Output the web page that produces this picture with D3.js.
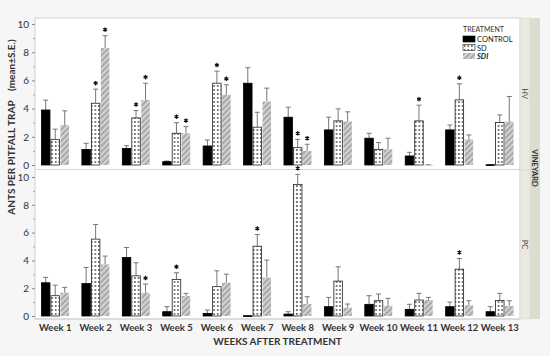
<!DOCTYPE html>
<html>
<head>
<meta charset="UTF-8">
<title>Ants per pitfall trap</title>
<script src="https://cdn.jsdelivr.net/npm/d3@7"></script>
<style>
	body { margin: 0; padding: 0; background: #f6f6f6; }
	text { font-family: Lato, "Open Sans", "DejaVu Sans", sans-serif; }
</style>
</head>
<body>
<script>
	var w = 550, h = 356;

	var weeks = ["Week 1", "Week 2", "Week 3", "Week 5", "Week 6", "Week 7", "Week 8", "Week 9", "Week 10", "Week 11", "Week 12", "Week 13"];
	var treatments = ["CONTROL", "SD", "SDI"];
	var vineyards = ["HV", "PC"];
	var yTicks = [0, 2, 4, 6, 8, 10];

	// HV vineyard: means and upper error bar (mean + S.E.)
	var hvControl = [3.9, 1.1, 1.18, 0.24, 1.35, 5.8, 3.39, 2.49, 1.9, 0.64, 2.49, 0.02];
	var hvControlErr = [4.6, 1.54, 1.37, 0.28, 1.78, 6.9, 4.1, 3.39, 2.25, 0.9, 2.84, 0.02];
	var hvSD = [1.82, 4.38, 3.34, 2.25, 5.8, 2.68, 1.23, 3.13, 1.11, 3.13, 4.62, 3.01];
	var hvSDErr = [2.54, 5.38, 3.86, 3.0, 6.66, 3.74, 1.82, 3.98, 1.59, 4.24, 5.76, 3.55];
	var hvSDI = [2.84, 8.29, 4.62, 2.25, 4.98, 4.5, 1.0, 3.08, 1.11, 0.02, 1.82, 3.08];
	var hvSDIErr = [3.84, 9.17, 5.8, 2.72, 5.69, 5.45, 1.47, 3.77, 1.9, 0.02, 2.13, 4.86];

	// PC vineyard
	var pcControl = [2.39, 2.34, 4.21, 0.31, 0.19, 0.02, 0.14, 0.67, 0.84, 0.48, 0.67, 0.31];
	var pcControlErr = [2.78, 3.49, 4.93, 0.67, 0.43, 0.02, 0.31, 1.34, 1.46, 0.84, 1.0, 0.67];
	var pcSD = [1.46, 5.53, 2.89, 2.63, 2.11, 5.02, 9.47, 2.51, 1.1, 1.15, 3.37, 1.12];
	var pcSDErr = [2.22, 6.58, 3.83, 3.11, 3.25, 5.86, 10.19, 3.54, 1.58, 1.63, 4.14, 1.63];
	var pcSDI = [1.67, 3.71, 1.67, 1.44, 2.39, 2.75, 0.86, 0.6, 0.74, 1.15, 0.77, 0.72];
	var pcSDIErr = [2.06, 4.31, 2.3, 1.63, 3.01, 4.02, 1.39, 0.86, 1.27, 1.34, 1.1, 1.1];

	// significance stars: [vineyard, week index, treatment]
	var stars = [
		["HV", 1, "SD"], ["HV", 1, "SDI"], ["HV", 2, "SD"], ["HV", 2, "SDI"],
		["HV", 3, "SD"], ["HV", 3, "SDI"], ["HV", 4, "SD"], ["HV", 4, "SDI"],
		["HV", 6, "SD"], ["HV", 6, "SDI"], ["HV", 9, "SD"], ["HV", 10, "SD"],
		["PC", 2, "SDI"], ["PC", 3, "SD"], ["PC", 5, "SD"], ["PC", 6, "SD"], ["PC", 10, "SD"]
	];

	var series = {
		HV: { CONTROL: [hvControl, hvControlErr], SD: [hvSD, hvSDErr], SDI: [hvSDI, hvSDIErr] },
		PC: { CONTROL: [pcControl, pcControlErr], SD: [pcSD, pcSDErr], SDI: [pcSDI, pcSDIErr] }
	};

	var left = 35, right = 520;
	var panels = { HV: { top: 18, bottom: 169.5, y0: 165, y10: 24 }, PC: { top: 170, bottom: 319, y0: 316, y10: 177 } };

	var svg = d3.select("body").append("svg")
		.attr("width", w)
		.attr("height", h);

	var defs = svg.append("defs");
	var dots = defs.append("pattern").attr("id", "dots")
		.attr("patternUnits", "userSpaceOnUse").attr("width", 3.6).attr("height", 4);
	dots.append("rect").attr("width", 3.6).attr("height", 4).attr("fill", "#fff");
	dots.append("rect").attr("x", 1).attr("y", 1.3).attr("width", 1.4).attr("height", 1.4).attr("fill", "#111");

	var hatch = defs.append("pattern").attr("id", "hatch")
		.attr("patternUnits", "userSpaceOnUse").attr("width", 4).attr("height", 4)
		.attr("patternTransform", "rotate(45)");
	hatch.append("rect").attr("width", 4).attr("height", 4).attr("fill", "#a9a9a9");
	hatch.append("rect").attr("width", 1.6).attr("height", 4).attr("fill", "#dcdcdc");

	var fills = { CONTROL: "#000", SD: "url(#dots)", SDI: "url(#hatch)" };
	var strokes = { CONTROL: "#000", SD: "#222", SDI: "none" };

	var x = d3.scaleBand().domain(weeks).range([left, right]).paddingInner(0.295).paddingOuter(0.1475);
	var xs = d3.scaleBand().domain(treatments).range([0, x.bandwidth()]);
	var star = d3.symbol().type(d3.symbolAsterisk).size(14);

	// outer frame
	svg.append("rect").attr("x", left).attr("y", 18).attr("width", right - left).attr("height", 301)
		.attr("fill", "#fff").attr("stroke", "#d0d0d0");

	var starLayer = [];

	vineyards.forEach(function(v) {
		var p = panels[v];
		var y = d3.scaleLinear().domain([0, 10]).range([p.y0, p.y10]);
		var g = svg.append("g");

		g.append("line").attr("x1", left).attr("x2", right).attr("y1", p.bottom).attr("y2", p.bottom)
			.attr("stroke", "#d4d4d4");

		var axis = d3.axisLeft(y).tickValues(yTicks).tickSize(3).tickPadding(3);
		var ag = g.append("g").attr("transform", "translate(" + left + ",0)").call(axis);
		ag.select(".domain").remove();
		ag.selectAll("line").attr("stroke", "#888");
		ag.selectAll("text").attr("font-size", 10).attr("fill", "#333");
		g.append("g").attr("transform", "translate(" + left + ",0)")
			.call(d3.axisLeft(y).tickValues(d3.range(1, 10, 2)).tickSize(2).tickFormat(""))
			.call(function(s) { s.select(".domain").remove(); s.selectAll("line").attr("stroke", "#aaa"); });

		treatments.forEach(function(t) {
			var vals = series[v][t][0], errs = series[v][t][1];
			var bx = function(i) { return x(weeks[i]) + xs(t); };
			g.selectAll(null).data(vals).enter().append("line")
				.attr("x1", function(d, i) { return bx(i) + xs.bandwidth() / 2; })
				.attr("x2", function(d, i) { return bx(i) + xs.bandwidth() / 2; })
				.attr("y1", function(d) { return y(d); })
				.attr("y2", function(d, i) { return y(errs[i]); })
				.attr("stroke", "#777").attr("stroke-width", 1);
			g.selectAll(null).data(errs).enter().append("line")
				.attr("x1", function(d, i) { return bx(i) + xs.bandwidth() / 2 - 2.5; })
				.attr("x2", function(d, i) { return bx(i) + xs.bandwidth() / 2 + 2.5; })
				.attr("y1", function(d) { return y(d); })
				.attr("y2", function(d) { return y(d); })
				.attr("stroke", "#777").attr("stroke-width", 1);
			g.selectAll(null).data(vals).enter().append("rect")
				.attr("x", function(d, i) { return bx(i) + 0.5; })
				.attr("y", function(d) { return y(d); })
				.attr("width", xs.bandwidth() - 1)
				.attr("height", function(d) { return Math.max(0.8, y(0) - y(d)); })
				.attr("fill", fills[t])
				.attr("stroke", strokes[t]).attr("stroke-width", 0.8);
		});

		stars.filter(function(s) { return s[0] === v; }).forEach(function(s) {
			starLayer.push([x(weeks[s[1]]) + xs(s[2]) + xs.bandwidth() / 2, y(series[v][s[2]][1][s[1]]) - 6]);
		});

		// strip
		svg.append("rect").attr("x", right).attr("y", p.top).attr("width", 10).attr("height", (v === "HV" ? 152 : 149))
			.attr("fill", "#e9e9e1").attr("stroke", "#d6d6cc").attr("stroke-width", 0.5);
		svg.append("text").attr("transform", "translate(522," + ((p.top + p.bottom) / 2) + ") rotate(90)")
			.attr("text-anchor", "middle").attr("font-size", 7.5).attr("fill", "#444").text(v);
	});

	svg.selectAll(".star").data(starLayer).enter().append("path")
		.attr("class", "star")
		.attr("transform", function(d) { return "translate(" + d[0] + "," + d[1] + ")"; })
		.attr("d", star)
		.attr("fill", "none").attr("stroke", "#111").attr("stroke-width", 1.2);

	svg.append("rect").attr("x", 530).attr("y", 18).attr("width", 10).attr("height", 301).attr("fill", "#dcdcd0");
	svg.append("text").attr("transform", "translate(532,168) rotate(90)")
		.attr("text-anchor", "middle").attr("font-size", 7.5).attr("font-weight", "bold").attr("fill", "#333").text("VINEYARD");

	// x tick labels
	svg.selectAll(null).data(weeks).enter().append("text")
		.attr("x", function(d) { return x(d) + x.bandwidth() / 2; })
		.attr("y", 331)
		.attr("text-anchor", "middle").attr("font-size", 9.5).attr("font-weight", "bold").attr("fill", "#333")
		.text(function(d) { return d; });

	svg.append("text").attr("x", (left + right) / 2).attr("y", 345)
		.attr("text-anchor", "middle").attr("font-size", 10).attr("font-weight", "bold").attr("fill", "#333")
		.text("WEEKS AFTER TREATMENT");

	svg.append("text").attr("transform", "translate(15,127) rotate(-90)")
		.attr("text-anchor", "middle").attr("font-size", 10).attr("font-weight", "bold").attr("fill", "#333")
		.attr("xml:space", "preserve")
		.text("ANTS PER PITFALL TRAP    (mean±S.E.)");

	// legend
	var lg = svg.append("g").attr("transform", "translate(463,28)");
	lg.append("text").attr("x", 0).attr("y", 4).attr("font-size", 7).attr("fill", "#333").text("TREATMENT");
	treatments.forEach(function(t, i) {
		lg.append("rect").attr("x", 0).attr("y", 8 + i * 8.5).attr("width", 12).attr("height", 6)
			.attr("fill", fills[t]).attr("stroke", strokes[t]).attr("stroke-width", 0.6);
		lg.append("text").attr("x", 14).attr("y", 14 + i * 8.5).attr("font-size", 7.5).attr("fill", "#222")
			.attr("font-weight", t === "SDI" ? "bold" : "normal")
			.attr("font-style", t === "SDI" ? "italic" : "normal")
			.text(t);
	});
</script>
</body>
</html>
